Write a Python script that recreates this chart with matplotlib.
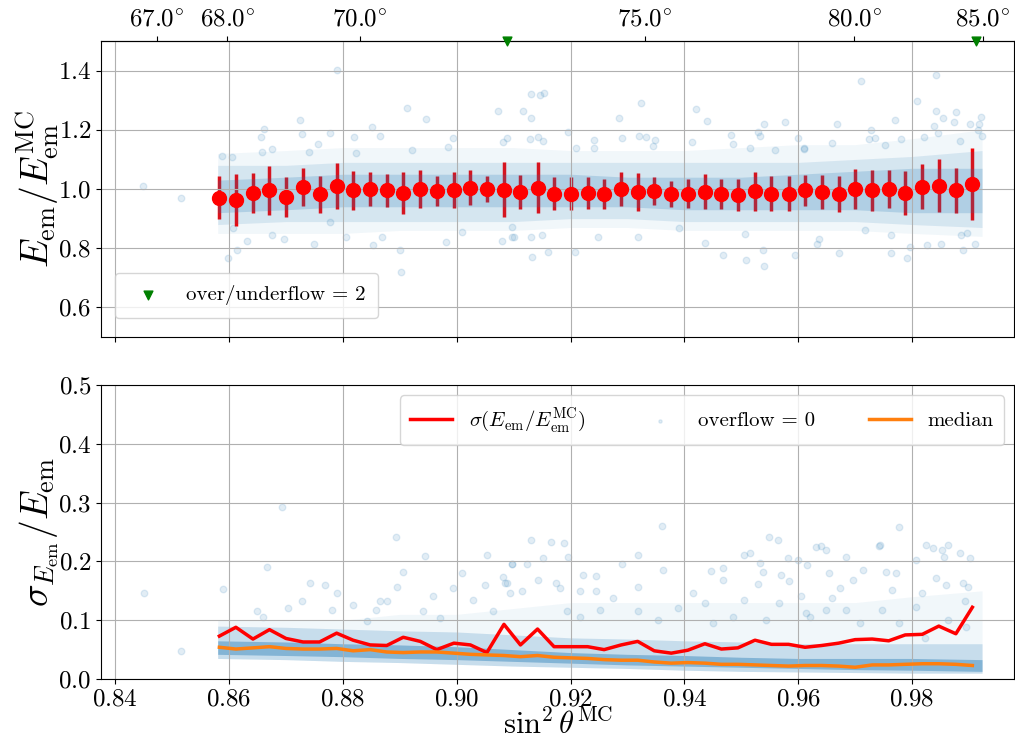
import numpy as np
import matplotlib
matplotlib.use("Agg")
import matplotlib.pyplot as plt

plt.rcParams.update({
    "font.family": "serif",
    "font.serif": ["cmr10"],
    "mathtext.fontset": "cm",
    "axes.unicode_minus": False,
    "axes.formatter.use_mathtext": True,
})

# bin centres in sin^2(theta_MC)
bin_x = [0.8583, 0.8612, 0.8642, 0.8671, 0.8700, 0.8730, 0.8759, 0.8789, 0.8818, 0.8848,
         0.8877, 0.8906, 0.8936, 0.8965, 0.8995, 0.9024, 0.9053, 0.9083, 0.9112, 0.9142,
         0.9171, 0.9200, 0.9230, 0.9259, 0.9289, 0.9318, 0.9347, 0.9377, 0.9406, 0.9436,
         0.9465, 0.9494, 0.9524, 0.9553, 0.9583, 0.9612, 0.9641, 0.9671, 0.9700, 0.9730,
         0.9759, 0.9788, 0.9818, 0.9847, 0.9877, 0.9906]

# mean of E_em / E_em^MC per bin
bin_mean = [0.971, 0.964, 0.986, 0.995, 0.973, 1.007, 0.982, 1.011, 0.995, 1.001,
            0.995, 0.986, 1.000, 0.993, 0.998, 1.005, 1.000, 0.998, 0.989, 1.005,
            0.984, 0.984, 0.986, 0.984, 1.000, 0.991, 0.993, 0.982, 0.984, 0.991,
            0.984, 0.980, 0.993, 0.984, 0.984, 0.995, 0.991, 0.982, 1.000, 0.995,
            1.000, 0.986, 1.007, 1.011, 0.995, 1.018]

# spread of E_em / E_em^MC per bin
bin_sigma = [0.073, 0.088, 0.068, 0.084, 0.069, 0.063, 0.063, 0.078, 0.066, 0.058,
             0.057, 0.071, 0.064, 0.050, 0.061, 0.058, 0.045, 0.093, 0.058, 0.085,
             0.055, 0.055, 0.055, 0.050, 0.058, 0.064, 0.048, 0.044, 0.049, 0.060,
             0.051, 0.053, 0.066, 0.059, 0.059, 0.054, 0.057, 0.061, 0.067, 0.068,
             0.065, 0.075, 0.076, 0.090, 0.077, 0.122]

# median of sigma_E / E per bin
bin_median = [0.054, 0.051, 0.053, 0.055, 0.052, 0.051, 0.051, 0.052, 0.048, 0.050,
              0.046, 0.045, 0.046, 0.046, 0.044, 0.042, 0.041, 0.040, 0.038, 0.040,
              0.037, 0.036, 0.035, 0.033, 0.032, 0.032, 0.029, 0.027, 0.028, 0.027,
              0.025, 0.025, 0.024, 0.023, 0.022, 0.023, 0.023, 0.022, 0.020, 0.024,
              0.024, 0.025, 0.026, 0.026, 0.025, 0.023]

# bulk of the event cloud (halo / outer / inner envelopes)
band_x = [0.8580, 0.8700, 0.8800, 0.8900, 0.9000, 0.9100, 0.9200, 0.9300,
          0.9400, 0.9500, 0.9600, 0.9700, 0.9800, 0.9923]
ratio_halo_hi = [1.12, 1.13, 1.14, 1.14, 1.14, 1.14, 1.13, 1.13, 1.13, 1.14, 1.15, 1.15, 1.17, 1.20]
ratio_halo_lo = [0.85, 0.85, 0.85, 0.86, 0.86, 0.86, 0.87, 0.87, 0.86, 0.86, 0.86, 0.86, 0.85, 0.84]
ratio_out_hi = [1.08, 1.08, 1.09, 1.09, 1.09, 1.09, 1.09, 1.09, 1.09, 1.09, 1.09, 1.10, 1.11, 1.13]
ratio_out_lo = [0.88, 0.89, 0.89, 0.89, 0.89, 0.89, 0.90, 0.90, 0.89, 0.89, 0.89, 0.89, 0.88, 0.87]
ratio_in_hi = [1.03, 1.04, 1.05, 1.05, 1.05, 1.05, 1.05, 1.04, 1.04, 1.04, 1.05, 1.06, 1.07, 1.07]
ratio_in_lo = [0.92, 0.93, 0.94, 0.94, 0.94, 0.94, 0.94, 0.94, 0.93, 0.93, 0.93, 0.93, 0.92, 0.92]

res_halo_hi = [0.100, 0.100, 0.100, 0.110, 0.110, 0.120, 0.130, 0.130, 0.130, 0.130, 0.130, 0.130, 0.140, 0.150]
res_out_hi = [0.090, 0.088, 0.085, 0.082, 0.080, 0.075, 0.070, 0.068, 0.065, 0.063, 0.060, 0.060, 0.060, 0.060]
res_out_lo = [0.035, 0.033, 0.030, 0.028, 0.025, 0.022, 0.020, 0.018, 0.015, 0.013, 0.012, 0.011, 0.010, 0.010]
res_in_hi = [0.065, 0.063, 0.060, 0.058, 0.055, 0.050, 0.045, 0.042, 0.040, 0.037, 0.035, 0.035, 0.035, 0.033]
res_in_lo = [0.042, 0.040, 0.038, 0.035, 0.033, 0.030, 0.027, 0.024, 0.022, 0.020, 0.018, 0.016, 0.015, 0.013]

# isolated events, ratio panel
ratio_pts_x = [0.8449, 0.8516, 0.8789, 0.8725, 0.8661, 0.8656, 0.8728, 0.8777, 0.8851, 0.8819,
               0.8865, 0.8756, 0.8675, 0.8658, 0.8740, 0.8588, 0.8605, 0.8823, 0.8912, 0.8946,
               0.9072, 0.9116, 0.9130, 0.9147, 0.9153, 0.9130, 0.9196, 0.8993, 0.9089, 0.9082,
               0.9128, 0.9142, 0.9151, 0.9242, 0.9242, 0.9209, 0.8984, 0.8921, 0.9323, 0.9286,
               0.9421, 0.9440, 0.9540, 0.9577, 0.9291, 0.9321, 0.9332, 0.9349, 0.9344, 0.9414,
               0.9482, 0.9486, 0.9530, 0.9532, 0.9516, 0.9560, 0.9600, 0.9611, 0.9711, 0.9842,
               0.9809, 0.9842, 0.9854, 0.9877, 0.9874, 0.9902, 0.9921, 0.9668, 0.9770, 0.9728,
               0.9725, 0.9735, 0.9839, 0.9846, 0.9918, 0.9916, 0.9923, 0.9884, 0.9821, 0.9781,
               0.9660, 0.9753, 0.9611,
               0.8598, 0.8614, 0.8902, 0.8900, 0.8749, 0.8853, 0.8981, 0.8632, 0.8675, 0.8697,
               0.8805, 0.8868, 0.9009, 0.8607, 0.8777, 0.9098, 0.9098, 0.9079, 0.9133, 0.9160,
               0.9207, 0.9249, 0.9319, 0.9391, 0.9437, 0.9467, 0.9509, 0.9540, 0.9539, 0.9595,
               0.9633, 0.9672, 0.9763, 0.9791, 0.9796, 0.9889, 0.9911, 0.9826, 0.9851, 0.9763,
               0.9718, 0.9637, 0.9507, 0.9100, 0.9130, 0.9149, 0.9886, 0.9896]
ratio_pts_y = [1.010, 0.969, 1.403, 1.234, 1.203, 1.176, 1.186, 1.190, 1.210, 1.176,
               1.180, 1.153, 1.136, 1.125, 1.125, 1.112, 1.108, 1.122, 1.275, 1.237,
               1.264, 1.264, 1.322, 1.319, 1.325, 1.241, 1.193, 1.173, 1.173, 1.159,
               1.169, 1.176, 1.163, 1.166, 1.139, 1.139, 1.142, 1.132, 1.292, 1.241,
               1.271, 1.231, 1.220, 1.227, 1.173, 1.180, 1.176, 1.166, 1.146, 1.159,
               1.183, 1.153, 1.193, 1.180, 1.139, 1.132, 1.173, 1.136, 1.366, 1.386,
               1.298, 1.264, 1.241, 1.261, 1.227, 1.220, 1.244, 1.220, 1.234, 1.200,
               1.169, 1.173, 1.214, 1.190, 1.220, 1.200, 1.180, 1.163, 1.176, 1.169,
               1.156, 1.149, 1.139,
               0.766, 0.793, 0.719, 0.793, 0.814, 0.810, 0.820, 0.824, 0.844, 0.831,
               0.837, 0.837, 0.854, 0.868, 0.888, 0.837, 0.871, 0.824, 0.769, 0.786,
               0.786, 0.837, 0.837, 0.868, 0.817, 0.776, 0.759, 0.739, 0.793, 0.776,
               0.814, 0.783, 0.783, 0.766, 0.803, 0.793, 0.814, 0.810, 0.814, 0.844,
               0.861, 0.831, 0.847, 0.837, 0.837, 0.844, 0.844, 0.851]

# events beyond the ratio axis range
over_x = [0.9089, 0.9912]
over_y = [1.5, 1.5]

# isolated events, resolution panel
res_pts_x = [0.8451, 0.8516, 0.8590, 0.8667, 0.8649, 0.8660, 0.8703, 0.8728, 0.8742, 0.8768,
             0.8789, 0.8780, 0.8817, 0.8842, 0.8859, 0.8865, 0.8877, 0.8895, 0.8905, 0.8945,
             0.8940, 0.8958, 0.8970, 0.8993, 0.9009, 0.9028, 0.9049, 0.9054, 0.9063, 0.9084,
             0.9098, 0.9093, 0.9082,
             0.9131, 0.9165, 0.9188, 0.9098, 0.9123, 0.9151, 0.9196, 0.9291, 0.9319, 0.9088,
             0.9114, 0.9142, 0.9174, 0.9182, 0.9221, 0.9245, 0.9274, 0.9319, 0.9363, 0.9216,
             0.9245, 0.9193, 0.9216, 0.9251, 0.9319, 0.9353, 0.9388, 0.9416, 0.9437, 0.9446,
             0.9468, 0.9505, 0.9516, 0.9533, 0.9539, 0.9468, 0.9504, 0.9530, 0.9451, 0.9486,
             0.9565, 0.9582, 0.9600, 0.9570, 0.9584, 0.9605, 0.9566, 0.9544, 0.9614, 0.9616,
             0.9632, 0.9649, 0.9654, 0.9660, 0.9684, 0.9696, 0.9674, 0.9714, 0.9744, 0.9754,
             0.9765, 0.9772, 0.9807, 0.9818, 0.9825, 0.9842, 0.9853, 0.9856, 0.9860, 0.9863,
             0.9889, 0.9893, 0.9898, 0.9902, 0.9895, 0.9823, 0.9807, 0.9747, 0.9684, 0.9649,
             0.9621, 0.9709, 0.9777, 0.9863,
             0.8693, 0.9361, 0.8893, 0.9549, 0.9777, 0.9742, 0.9837, 0.9640, 0.9884]
res_pts_y = [0.146, 0.048, 0.153, 0.191, 0.115, 0.105, 0.120, 0.132, 0.163, 0.160,
             0.146, 0.118, 0.126, 0.098, 0.118, 0.133, 0.133, 0.156, 0.182, 0.209,
             0.116, 0.141, 0.103, 0.154, 0.180, 0.134, 0.160, 0.211, 0.115, 0.164,
             0.195, 0.146, 0.174,
             0.236, 0.233, 0.231, 0.195, 0.195, 0.205, 0.208, 0.195, 0.211, 0.164,
             0.149, 0.168, 0.164, 0.154, 0.177, 0.175, 0.137, 0.157, 0.185, 0.149,
             0.149, 0.115, 0.106, 0.118, 0.115, 0.101, 0.120, 0.146, 0.129, 0.184,
             0.189, 0.211, 0.214, 0.197, 0.182, 0.168, 0.134, 0.162, 0.095, 0.106,
             0.236, 0.205, 0.202, 0.177, 0.166, 0.141, 0.129, 0.101, 0.112, 0.194,
             0.225, 0.219, 0.180, 0.137, 0.208, 0.168, 0.154, 0.185, 0.228, 0.182,
             0.151, 0.180, 0.202, 0.146, 0.228, 0.171, 0.219, 0.208, 0.160, 0.228,
             0.164, 0.132, 0.157, 0.205, 0.089, 0.069, 0.123, 0.118, 0.118, 0.118,
             0.106, 0.095, 0.095, 0.101,
             0.293, 0.261, 0.241, 0.241, 0.258, 0.227, 0.222, 0.227, 0.215]

deg_ticks = [67.0, 68.0, 70.0, 75.0, 80.0, 85.0]

blue = "#1f77b4"
xlim = (0.8375, 0.9980)

fig = plt.figure(figsize=(10.15, 7.43), dpi=100)
ax1 = fig.add_axes([0.0995, 0.5464, 0.9, 0.3984])
ax2 = fig.add_axes([0.0995, 0.0861, 0.9, 0.3957], sharex=ax1)

# ---- upper panel: energy ratio
ax1.fill_between(band_x, ratio_halo_lo, ratio_halo_hi, color=blue, alpha=0.06, lw=0, zorder=1.2)
ax1.fill_between(band_x, ratio_out_lo, ratio_out_hi, color=blue, alpha=0.13, lw=0, zorder=1.2)
ax1.fill_between(band_x, ratio_in_lo, ratio_in_hi, color=blue, alpha=0.2, lw=0, zorder=1.2)
ax1.scatter(ratio_pts_x, ratio_pts_y, s=22, color=blue, alpha=0.13, zorder=1.3)
ax1.errorbar(bin_x, bin_mean, yerr=bin_sigma, fmt="none", ecolor="red", elinewidth=2.5, zorder=1)
ax1.plot(bin_x, bin_mean, "o", color="red", ms=10, zorder=3)
ax1.scatter(over_x, over_y, marker="v", s=40, color="green", clip_on=False, zorder=4,
            label="over/underflow = 2")
ax1.set_ylim(0.5, 1.5)
ax1.set_yticks([0.6, 0.8, 1.0, 1.2, 1.4])
ax1.grid(True, color="#b0b0b0", lw=0.8)
ax1.tick_params(labelsize=18, labelbottom=False)
ax1.set_ylabel(r"$E_{\rm em}/E_{\rm em}^{\rm MC}$", fontsize=27)
ax1.yaxis.set_label_coords(-0.044, 0.5)
ax1.legend(loc="lower left", fontsize=15, borderpad=0.6, bbox_to_anchor=(0.004, 0.03))

sec = ax1.secondary_xaxis("top")
sec.set_xticks([np.sin(np.radians(d)) ** 2 for d in deg_ticks],
               [r"$%.1f^{\circ}$" % d for d in deg_ticks])
sec.tick_params(labelsize=18)

# ---- lower panel: resolution
ax2.fill_between(band_x, res_out_lo, res_halo_hi, color=blue, alpha=0.06, lw=0, zorder=1.2)
ax2.fill_between(band_x, res_out_lo, res_out_hi, color=blue, alpha=0.2, lw=0, zorder=1.2)
ax2.fill_between(band_x, res_in_lo, res_in_hi, color=blue, alpha=0.4, lw=0, zorder=1.2)
l_sig, = ax2.plot(bin_x, bin_sigma, color="red", lw=2.5, zorder=3,
                  label=r"$\sigma(E_{\rm em}/E_{\rm em}^{\rm MC})$")
sc = ax2.scatter(res_pts_x, res_pts_y, s=22, color=blue, alpha=0.13, zorder=1.3,
                 label="overflow = 0")
l_med, = ax2.plot(bin_x, bin_median, color="#ff7f0e", lw=2.5, zorder=3, label="median")
ax2.set_ylim(0, 0.5)
ax2.set_xlim(*xlim)
ax2.set_xticks([0.84, 0.86, 0.88, 0.90, 0.92, 0.94, 0.96, 0.98])
ax2.grid(True, color="#b0b0b0", lw=0.8)
ax2.tick_params(labelsize=18)
ax2.set_ylabel(r"$\sigma_{E_{\rm em}}/E_{\rm em}$", fontsize=27)
ax2.yaxis.set_label_coords(-0.044, 0.5)
ax2.set_xlabel(r"$\sin^2\theta^{\rm MC}$", fontsize=22)
ax2.xaxis.set_label_coords(0.5, -0.102)
ax2.legend(handles=[l_sig, sc, l_med], loc="upper right", ncol=3, fontsize=15,
           borderpad=0.5, columnspacing=2.6, markerscale=0.5)

fig.savefig("out.png", dpi=100)
